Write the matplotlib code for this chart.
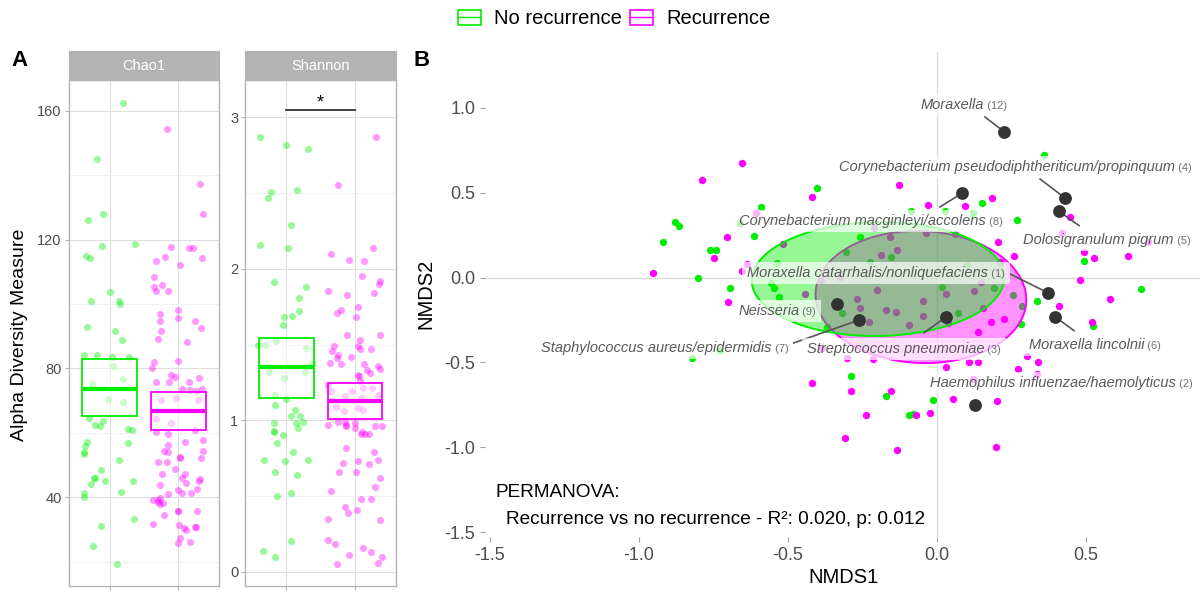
import numpy as np
import matplotlib
matplotlib.use("Agg")
import matplotlib.pyplot as plt
from matplotlib.patches import Rectangle, Patch
from matplotlib.lines import Line2D
from matplotlib.transforms import offset_copy, Bbox

plt.rcParams['font.family'] = ['Liberation Sans', 'DejaVu Sans']
plt.rcParams['axes.unicode_minus'] = False

GREEN = '#00EE00'
PINK = '#FF00FF'

# ---------------- Panel A: alpha diversity ----------------
# Chao1, no recurrence (value, jittered x)
chao1_no = [162.3, 145, 128.1, 126.2, 118, 118.8, 115, 114.4, 103.7, 100.9, 99.9, 100.8, 93, 91.5, 88.9,
            84.2, 84.1, 83.4, 83.6, 80.9, 76.8, 75.2, 70.5, 69.7, 64.5, 62.5, 62.2, 63.6, 61.2, 60.9,
            57.2, 56, 56.7, 54, 53.4, 51.4, 48.5, 46, 45.8, 44.9, 44.2, 45, 41.6, 41.3, 40, 31, 33.2, 24.8, 19.3]
chao1_no_x = [1.2, 0.82, 0.9, 0.68, 0.88, 1.37, 0.65, 0.71, 1.01, 1.14, 1.15, 0.72, 0.67, 1.08, 1.18,
              0.63, 0.81, 1.03, 1.28, 1.05, 1.2, 0.74, 0.97, 1.2, 0.69, 0.78, 0.86, 0.9, 1.26, 1.32,
              0.67, 0.64, 1.27, 0.62, 0.63, 1.13, 0.87, 0.77, 0.78, 0.93, 0.72, 1.34, 1.16, 0.62, 0.62, 0.87, 1.36, 0.76, 1.1]
# Chao1, recurrence
chao1_rec = [154.3, 137.4, 128.1, 117.8, 114.7, 113.4, 117.3, 117.3, 114.3, 112.1, 108.3, 105.2, 104, 105.9, 104.1,
             98.2, 96.8, 95.7, 94.6, 94.6, 92.5, 91.6, 89.1, 88.2, 81.9, 80.1, 82.3, 78.1, 77.4, 75.9,
             75.7, 77.1, 75.7, 73.5, 73.3, 73, 73.7, 70.2, 70.8, 70.1, 64.2, 63.1, 60.3, 59.7, 60.9,
             57.8, 57, 56.3, 54.3, 53.9, 54.3, 52.3, 52.4, 52.1, 51, 51, 48.8, 47.1, 45.9, 47.1,
             45.5, 45, 44.3, 43.8, 42.6, 42.2, 41.3, 41.3, 40.9, 39.1, 39.2, 38.6, 38, 38.3, 39.8,
             34.5, 35.8, 35.6, 35.8, 31.8, 31.2, 30.5, 29.8, 30.6, 30.6, 27.3, 25.9, 26.1]
chao1_rec_x = [1.83, 2.32, 2.36, 1.89, 1.81, 1.68, 2.21, 2.16, 2.35, 2.03, 1.64, 1.65, 1.68, 1.76, 1.85,
               2.0, 1.73, 2.0, 1.74, 2.25, 2.33, 1.75, 1.71, 2.13, 1.64, 1.62, 1.99, 1.9, 1.96, 1.68,
               1.86, 2.31, 2.16, 2.06, 2.17, 2.26, 2.34, 1.75, 1.97, 2.29, 1.68, 1.89, 1.68, 1.85, 2.24,
               2.36, 2.1, 1.85, 1.79, 1.85, 2.36, 2.33, 2.02, 2.03, 1.7, 1.83, 1.95, 1.77, 2.05, 2.1,
               2.32, 2.3, 2.11, 1.74, 2.28, 2.0, 2.05, 2.19, 1.85, 1.63, 1.7, 1.71, 1.74, 1.78, 1.74,
               1.79, 1.99, 2.0, 2.27, 1.63, 2.01, 2.09, 2.11, 2.25, 2.26, 2.03, 1.99, 2.17]
# Shannon, no recurrence
shannon_no = [2.87, 2.82, 2.79, 2.51, 2.47, 2.52, 2.29, 2.16, 2.14, 1.91, 1.88, 1.81, 1.72, 1.69, 1.68,
              1.63, 1.50, 1.50, 1.52, 1.48, 1.38, 1.32, 1.32, 1.28, 1.17, 1.14, 1.10, 1.07, 1.03, 1.03,
              0.99, 0.98, 0.98, 0.95, 0.93, 0.92, 0.90, 0.85, 0.79, 0.74, 0.73, 0.74, 0.66, 0.64, 0.50,
              0.52, 0.20, 0.14, 0.10]
shannon_no_x = [0.62, 1.0, 1.32, 0.77, 0.73, 1.15, 1.06, 0.62, 1.03, 0.82, 1.28, 1.18, 1.18, 1.08, 0.97,
                0.95, 0.59, 0.69, 0.85, 1.29, 1.37, 0.74, 1.27, 0.97, 0.84, 1.0, 0.84, 1.12, 1.06, 1.2,
                1.24, 0.82, 1.14, 1.17, 0.82, 0.82, 0.95, 0.86, 1.09, 0.67, 0.98, 1.32, 0.84, 1.16, 0.87,
                1.06, 1.06, 0.66, 0.84]
# Shannon, recurrence
shannon_rec = [2.87, 2.55, 2.14, 2.10, 2.06, 2.05, 1.95, 1.92, 1.90, 1.85, 1.83, 1.84, 1.75, 1.73, 1.71,
               1.68, 1.56, 1.56, 1.53, 1.49, 1.49, 1.47, 1.47, 1.46, 1.43, 1.42, 1.41, 1.38, 1.37, 1.37,
               1.36, 1.34, 1.33, 1.31, 1.30, 1.29, 1.26, 1.23, 1.19, 1.21, 1.21, 1.16, 1.19, 1.15, 1.17,
               1.09, 1.06, 1.08, 1.07, 0.99, 0.99, 0.97, 0.98, 0.97, 0.96, 0.95, 0.92, 0.91, 0.91, 0.91,
               0.96, 0.96, 0.82, 0.79, 0.72, 0.73, 0.71, 0.74, 0.66, 0.66, 0.62, 0.56, 0.53, 0.48, 0.48,
               0.43, 0.39, 0.41, 0.35, 0.34, 0.21, 0.18, 0.16, 0.13, 0.11, 0.10, 0.05, 0.06]
shannon_rec_x = [2.31, 1.75, 2.27, 1.65, 1.92, 2.14, 2.11, 2.36, 2.35, 1.61, 1.88, 2.28, 2.04, 1.80, 1.74,
                 2.02, 1.89, 2.37, 2.08, 1.70, 2.05, 2.08, 2.23, 1.66, 1.75, 1.95, 1.74, 1.64, 1.79, 2.13,
                 2.33, 2.36, 2.17, 2.22, 2.04, 2.06, 2.07, 1.60, 1.65, 2.12, 2.25, 1.85, 1.96, 2.09, 2.33,
                 1.72, 1.84, 2.05, 2.12, 1.76, 1.86, 1.87, 2.0, 1.61, 1.87, 2.0, 2.11, 2.09, 2.15, 2.2,
                 2.29, 2.39, 1.87, 2.28, 1.82, 2.05, 2.2, 2.34, 1.77, 2.01, 2.37, 2.3, 1.65, 2.09, 2.23,
                 1.86, 1.90, 2.03, 1.60, 2.36, 1.60, 1.71, 2.12, 2.24, 1.91, 2.40, 1.74, 2.33]
# crossbars: lower, middle, upper
chao1_box_no = [65.1, 73.7, 82.9]
chao1_box_rec = [60.9, 66.7, 72.6]
shannon_box_no = [1.15, 1.35, 1.54]
shannon_box_rec = [1.01, 1.13, 1.245]

# ---------------- Panel B: NMDS ----------------
nmds_no_x = [-0.591, -0.879, -0.865, -0.661, -0.920, -0.614, -0.762, -0.742, -0.801, -0.538, -0.694, -0.558,
             -0.547, -0.531, -0.823, -0.728, -0.402, -0.257, -0.305, -0.154, -0.319, -0.368, 0.360, 0.152,
             -0.088, 0.027, 0.122, 0.270, 0.492, 0.686, 0.334, 0.522, 0.282, 0.017, 0.191, 0.254, 0.284,
             0.071, -0.224, 0.102, -0.013, -0.172, -0.094, -0.081, -0.290]
nmds_no_y = [0.416, 0.325, 0.305, 0.322, 0.211, 0.242, 0.162, 0.162, -0.005, 0.087, -0.060, -0.031,
             -0.064, -0.113, -0.472, -0.426, 0.528, 0.238, 0.148, 0.122, -0.207, -0.289, 0.721, 0.440,
             0.393, 0.393, 0.378, 0.340, 0.095, -0.066, -0.138, -0.287, -0.275, -0.054, -0.060, -0.105, -0.166,
             -0.211, 0.093, 0.074, -0.722, -0.697, -0.807, -0.805, -0.581]
nmds_rec_x = [-0.653, -0.789, -0.608, -0.706, -0.516, -0.749, -0.638, -0.655, -0.952, -0.702, -0.419, -0.210,
              -0.158, -0.135, -0.188, -0.326, -0.442, -0.202, -0.269, -0.258, -0.171, -0.227, -0.387, -0.303,
              -0.126, -0.029, 0.094, 0.183, 0.445, 0.061, 0.204, 0.258, 0.418, 0.707, 0.492, 0.527,
              0.640, 0.480, 0.579, 0.410, 0.519, 0.180, 0.224, 0.139, -0.036, -0.047, -0.047, -0.095,
              0.029, 0.124, 0.155, 0.037, -0.138, 0.106, 0.138, 0.029, 0.122, 0.301, 0.338, 0.272,
              0.335, 0.055, 0.202, -0.154, -0.024, -0.135, 0.199, -0.418, -0.289, -0.238, -0.071, -0.309,
              -0.390, 0.147, 0.210, -0.215]
nmds_rec_y = [0.675, 0.574, 0.378, 0.240, 0.199, 0.115, 0.081, 0.040, 0.025, -0.146, 0.472, 0.293,
              0.240, 0.162, 0.132, 0.001, -0.097, -0.072, -0.128, -0.178, -0.191, -0.264, -0.416, -0.475,
              0.544, 0.426, 0.421, 0.469, 0.358, 0.256, 0.211, 0.125, 0.262, 0.207, 0.148, 0.116,
              0.128, -0.016, -0.128, -0.166, -0.260, -0.260, -0.244, -0.319, 0.260, -0.136, -0.225, -0.279,
              -0.095, -0.079, -0.181, -0.269, -0.201, -0.499, -0.499, -0.525, -0.595, -0.464, -0.499, -0.536,
              -0.569, -0.713, -0.728, -0.666, -0.797, -1.015, -0.995, -0.621, -0.669, -0.807, -0.807, -0.944,
              -0.015, -0.025, 0.093, -0.481]
# 95% ellipses: centre x, centre y, semi-axis a, semi-axis b, angle (deg)
ellipse_no = [-0.198, -0.009, 0.424, 0.335, 3]
ellipse_rec = [-0.054, -0.115, 0.390, 0.352, 102]

# species vectors
species = ["Moraxella catarrhalis/nonliquefaciens", "Haemophilus influenzae/haemolyticus",
           "Streptococcus pneumoniae", "Corynebacterium pseudodiphtheriticum/propinquum",
           "Dolosigranulum pigrum", "Moraxella lincolnii", "Staphylococcus aureus/epidermidis",
           "Corynebacterium macginleyi/accolens", "Neisseria", "Moraxella"]
species_rank = [1, 2, 3, 4, 5, 6, 7, 8, 9, 12]
species_x = [0.371, 0.126, 0.031, 0.431, 0.408, 0.396, -0.261, 0.083, -0.336, 0.225]
species_y = [-0.089, -0.752, -0.231, 0.466, 0.391, -0.231, -0.250, 0.495, -0.158, 0.858]
# repelled label positions and segment starts
label_x = [-0.205, 0.418, -0.111, 0.262, 0.570, 0.530, -0.914, -0.221, -0.537, 0.091]
label_y = [0.032, -0.615, -0.415, 0.656, 0.226, -0.391, -0.409, 0.338, -0.191, 1.021]
seg_start = [(0.245, 0.021), None, (-0.044, -0.326), (0.346, 0.579), (0.477, 0.305),
             (0.460, -0.313), (-0.481, -0.385), (0.010, 0.415), None, (0.161, 0.944)]

W, H = 1203, 595
fig = plt.figure(figsize=(W / 100, H / 100), dpi=100)


def px_axes(left, top, right, bottom):
    return fig.add_axes([left / W, 1 - bottom / H, (right - left) / W, (bottom - top) / H])


def alpha_panel(left, right, title, no_x, no_v, rec_x, rec_v, box_no, box_rec, ylim, major, minor):
    ax = px_axes(left, 80, right, 586)
    ax.scatter(no_x, no_v, s=26, color=GREEN, alpha=0.4, lw=0, zorder=2)
    ax.scatter(rec_x, rec_v, s=26, color=PINK, alpha=0.4, lw=0, zorder=2)
    for xc, (lo, mid, hi), col in [(1, box_no, GREEN), (2, box_rec, PINK)]:
        ax.add_patch(Rectangle((xc - 0.4, lo), 0.8, hi - lo, fc=(1, 1, 1, 0.5), ec=col, lw=1.3, zorder=3))
        ax.plot([xc - 0.4, xc + 0.4], [mid, mid], color=col, lw=3, zorder=4, solid_capstyle='butt')
    ax.set_xlim(0.4, 2.6)
    ax.set_ylim(*ylim)
    ax.set_xticks([1, 2])
    ax.set_xticklabels([])
    ax.set_yticks(major)
    ax.set_yticks(minor, minor=True)
    ax.grid(which='major', color='#DEDEDE', lw=0.8)
    ax.grid(which='minor', axis='y', color='#EEEEEE', lw=0.6)
    ax.set_axisbelow(True)
    ax.tick_params(which='major', color='#B3B3B3', labelcolor='#4D4D4D', length=3, labelsize=10.5, pad=2)
    ax.tick_params(which='minor', length=0)
    for s in ax.spines.values():
        s.set_color('#B3B3B3')
        s.set_linewidth(1)
    # facet strip
    st = px_axes(left, 51, right, 80)
    st.set_facecolor('#B3B3B3')
    st.set_xticks([])
    st.set_yticks([])
    for s in st.spines.values():
        s.set_color('#B3B3B3')
    st.text(0.5, 0.5, title, color='white', fontsize=10.5, ha='center', va='center', transform=st.transAxes)
    return ax


ax_c = alpha_panel(68.7, 219.3, 'Chao1', chao1_no_x, chao1_no, chao1_rec_x, chao1_rec,
                   chao1_box_no, chao1_box_rec, (12.4, 169.6), [40, 80, 120, 160], [20, 60, 100, 140])
ax_s = alpha_panel(245.3, 396, 'Shannon', shannon_no_x, shannon_no, shannon_rec_x, shannon_rec,
                   shannon_box_no, shannon_box_rec, (-0.094, 3.246), [0, 1, 2, 3], [0.5, 1.5, 2.5])
ax_c.set_yticklabels(['40', '80', '120', '160'])
ax_s.set_yticklabels(['0', '1', '2', '3'])
# Wilcoxon significance bar
ax_s.plot([1, 2], [3.05, 3.05], color='#333333', lw=1.3, zorder=5)
ax_s.text(1.5, 3.065, '*', ha='center', va='baseline', fontsize=13, color='black')

fig.text(19.7 / W, 1 - 335 / H, 'Alpha Diversity Measure', rotation=90, ha='center', va='center', fontsize=14)
fig.text(19 / W, 1 - 60 / H, 'A', fontsize=16, fontweight='bold', ha='center', va='center')
fig.text(422 / W, 1 - 60 / H, 'B', fontsize=16, fontweight='bold', ha='center', va='center')

# ---------------- NMDS panel ----------------
ax = px_axes(485, 52, 1200, 537)
ax.axhline(0, color='#DCDCDC', lw=1, zorder=0)
ax.axvline(0, color='#DCDCDC', lw=1, zorder=0)
ax.scatter(nmds_no_x, nmds_no_y, s=28, color=GREEN, lw=0, zorder=1)
ax.scatter(nmds_rec_x, nmds_rec_y, s=28, color=PINK, lw=0, zorder=1)


def ellipse_xy(cx, cy, a, b, ang):
    t = np.linspace(0, 2 * np.pi, 200)
    th = np.deg2rad(ang)
    x = cx + a * np.cos(t) * np.cos(th) - b * np.sin(t) * np.sin(th)
    y = cy + a * np.cos(t) * np.sin(th) + b * np.sin(t) * np.cos(th)
    return x, y


for par, col in [(ellipse_rec, PINK), (ellipse_no, GREEN)]:
    ex, ey = ellipse_xy(*par)
    ax.fill(ex, ey, color=col, alpha=0.42, lw=0, zorder=2)
    ax.plot(ex, ey, color=col, lw=1.4, zorder=2)

ax.scatter(species_x, species_y, s=85, color='#333333', lw=0, zorder=4)
for seg, px, py in zip(seg_start, species_x, species_y):
    if seg is None:
        continue
    ax.plot([seg[0], px], [seg[1], py], color='#555555', lw=1.2, zorder=3.5)

ax.set_xlim(-1.517, 0.8826)
ax.set_ylim(-1.5265, 1.3265)
ax.set_xticks([-1.5, -1.0, -0.5, 0.0, 0.5])
ax.set_xticklabels(['-1.5', '-1.0', '-0.5', '0.0', '0.5'])
ax.set_yticks([-1.5, -1.0, -0.5, 0.0, 0.5, 1.0])
ax.set_yticklabels(['-1.5', '-1.0', '-0.5', '0.0', '0.5', '1.0'])
ax.tick_params(color='#A0A0A0', labelcolor='#4D4D4D', length=3.6, labelsize=13, pad=3.5)
for s in ax.spines.values():
    s.set_visible(False)

fig.text(844 / W, 1 - 577.5 / H, 'NMDS1', fontsize=14.5, ha='center', va='center')
fig.text(425.5 / W, 1 - 294 / H, 'NMDS2', fontsize=14.5, rotation=90, ha='center', va='center')

ax.text(-1.482, -1.266, 'PERMANOVA:', fontsize=13.7, ha='left', va='center')
ax.text(-1.445, -1.426, 'Recurrence vs no recurrence - R²: 0.020, p: 0.012', fontsize=13.7, ha='left', va='center')

# species labels with a translucent white box around name + rank
fig.canvas.draw()
r = fig.canvas.get_renderer()
inv = ax.transData.inverted()
for name, rank, lx, ly in zip(species, species_rank, label_x, label_y):
    t1 = ax.text(lx, ly, name, fontsize=10.5, style='italic', color='#595959', ha='left', va='baseline', zorder=6)
    t2 = ax.text(lx, ly, f' ({rank})', fontsize=8, color='#707070', ha='left', va='baseline', zorder=6)
    w1 = t1.get_window_extent(r).width
    w2 = t2.get_window_extent(r).width
    tot = w1 + w2
    t1.set_transform(offset_copy(ax.transData, fig=fig, x=-tot / 2, y=-5, units='dots'))
    t2.set_transform(offset_copy(ax.transData, fig=fig, x=-tot / 2 + w1, y=-5, units='dots'))
    bb = Bbox.union([t1.get_window_extent(r), t2.get_window_extent(r)])
    (x0, y0) = inv.transform((bb.x0 - 5, bb.y0 - 4))
    (x1, y1) = inv.transform((bb.x1 + 5, bb.y1 + 4))
    ax.add_patch(Rectangle((x0, y0), x1 - x0, y1 - y0, fc='white', alpha=0.7, ec='none', zorder=5))

# legend
handles = [(Patch(fc='white', ec=GREEN, lw=1.2), Line2D([], [], color=GREEN, lw=1)),
           (Patch(fc='white', ec=PINK, lw=1.2), Line2D([], [], color=PINK, lw=1))]
fig.legend(handles, ['No recurrence', 'Recurrence'], loc='upper left', bbox_to_anchor=(458 / W, 1 - 9.5 / H),
           ncol=2, frameon=False, fontsize=14.5, handlelength=1.15, handleheight=0.8, handletextpad=0.65,
           columnspacing=0.4, borderpad=0, borderaxespad=0)

fig.savefig('out.png', dpi=100)
